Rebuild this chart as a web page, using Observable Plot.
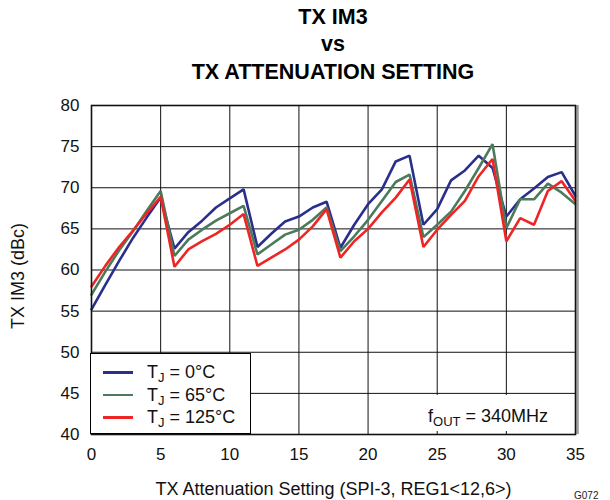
<!DOCTYPE html>
<html>
<head>
<meta charset="utf-8">
<script src="https://cdn.jsdelivr.net/npm/d3@7"></script>
<script src="https://cdn.jsdelivr.net/npm/@observablehq/plot@0.6"></script>
<style>
  body { margin: 0; background: #fff; font-family: "Liberation Sans", Arial, sans-serif; }
  #wrap { position: relative; width: 610px; height: 500px; overflow: hidden; }
  #title { position: absolute; left: 56px; top: 3.5px; width: 554px; text-align: center;
           font-weight: bold; font-size: 21.5px; line-height: 27.5px; color: #000; }
  #chart { position: absolute; left: 0; top: 90px; }
  #legend { position: absolute; left: 90px; top: 353px; width: 161px; height: 81px;
            background: #fff; border: 1.5px solid #000; box-sizing: border-box; }
  .li { position: absolute; left: 0; width: 159px; height: 22px; }
  .sw { position: absolute; left: 12px; width: 30px; height: 2.8px; }
  .lt { position: absolute; left: 56px; font-size: 18px; line-height: 18px; white-space: nowrap; color:#111; }
  .lt sub, #note sub { font-size: 13px; vertical-align: -4px; line-height: 0; }
  #notebox { position: absolute; left: 395px; top: 395px; width: 179px; height: 36px; background: #fff; }
  #note { position: absolute; left: 428px; top: 407px; font-size: 18px; line-height: 18px; white-space: nowrap; color:#111; }
  #gid { position: absolute; left: 574px; top: 490px; font-size: 10px; color: #222; }
</style>
</head>
<body>
<div id="wrap">
  <div id="title">TX IM3<br>vs<br>TX ATTENUATION SETTING</div>
  <div id="chart"></div>
  <div id="legend"></div>
  <div id="notebox"></div>
  <div id="note">f<sub>OUT</sub> = 340MHz</div>
  <div id="gid">G072</div>
</div>
<script>
// Data
const settings = d3.range(0, 36); // TX attenuation setting 0..35
const seriesNames = ["0°C", "65°C", "125°C"];
const seriesColors = ["#2b2f8c", "#4b7a5c", "#ee2525"];
const im3_0C = [55.2, 58.2, 61.1, 63.9, 66.4, 68.8, 62.6, 64.6, 66.0, 67.6, 68.7, 69.8,
                62.8, 64.4, 65.9, 66.5, 67.6, 68.3, 62.7, 65.5, 68.0, 69.8, 73.2, 73.9,
                65.5, 67.4, 70.9, 72.1, 73.9, 72.4, 66.5, 68.6, 69.9, 71.3, 71.9, 69.0];
const im3_65C = [57.0, 59.8, 62.4, 64.7, 67.2, 69.6, 61.7, 63.7, 64.9, 66.0, 66.9, 67.8,
                 61.9, 63.1, 64.3, 64.9, 66.1, 67.6, 62.3, 64.1, 66.1, 68.4, 70.7, 71.6,
                 64.0, 65.5, 67.1, 69.6, 72.4, 75.3, 65.1, 68.6, 68.6, 70.5, 69.4, 68.0];
const im3_125C = [58.0, 60.5, 62.8, 64.8, 66.9, 68.9, 60.4, 62.5, 63.5, 64.4, 65.5, 66.8,
                  60.5, 61.5, 62.5, 63.7, 65.3, 67.4, 61.5, 63.5, 65.0, 67.0, 68.8, 71.0,
                  62.8, 64.9, 66.7, 68.4, 71.4, 73.5, 63.5, 66.3, 65.5, 69.6, 70.8, 68.4];
const xTicks = [0, 5, 10, 15, 20, 25, 30, 35];
const yTicks = [40, 45, 50, 55, 60, 65, 70, 75, 80];

const allSeries = [im3_0C, im3_65C, im3_125C];
const rows = [];
allSeries.forEach((vals, i) => vals.forEach((v, j) => rows.push({x: settings[j], y: v, s: seriesNames[i]})));

const chart = Plot.plot({
  width: 610,
  height: 410,
  marginTop: 15,
  marginBottom: 66,
  marginLeft: 91,
  marginRight: 35,
  style: {fontFamily: "'Liberation Sans', Arial, sans-serif", fontSize: "17px", color: "#111", background: "#fff"},
  x: {domain: [0, 35], ticks: xTicks},
  y: {domain: [40, 80], ticks: yTicks},
  color: {domain: seriesNames, range: seriesColors},
  marks: [
    Plot.gridX(xTicks, {stroke: "#111", strokeOpacity: 1, strokeWidth: 1}),
    Plot.gridY(yTicks, {stroke: "#111", strokeOpacity: 1, strokeWidth: 1}),
    Plot.axisX({ticks: xTicks, tickSize: 0, tickPadding: 13, label: null, fontSize: 17}),
    Plot.axisY({ticks: yTicks, tickSize: 0, tickPadding: 12, label: null, fontSize: 17}),
    Plot.line(rows, {x: "x", y: "y", z: "s", stroke: "s", strokeWidth: 2.6, strokeLinejoin: "miter"}),
    Plot.ruleX([35], {stroke: "#9a9a9a", strokeWidth: 2.5, dx: 2}),
    Plot.frame({stroke: "#111", strokeWidth: 1.6}),
    Plot.text(["TX Attenuation Setting (SPI-3, REG1<12,6>)"], {frameAnchor: "bottom", textAnchor: "middle", lineAnchor: "middle", dy: 55, fontSize: 18, fill: "#111"}),
    Plot.text(["TX IM3 (dBc)"], {frameAnchor: "left", textAnchor: "middle", lineAnchor: "middle", dx: -73, dy: 6, rotate: -90, fontSize: 18, fill: "#111"})
  ]
});
document.getElementById("chart").appendChild(chart);

// Legend built from the series arrays
const legend = document.getElementById("legend");
seriesNames.forEach((name, i) => {
  const item = document.createElement("div");
  item.className = "li";
  item.style.top = (6 + i * 22.5) + "px";
  item.innerHTML = `<div class="sw" style="top:11px;background:${seriesColors[i]}"></div>` +
                   `<div class="lt" style="top:3px">T<sub>J</sub> = ${name}</div>`;
  legend.appendChild(item);
});
</script>
</body>
</html>
